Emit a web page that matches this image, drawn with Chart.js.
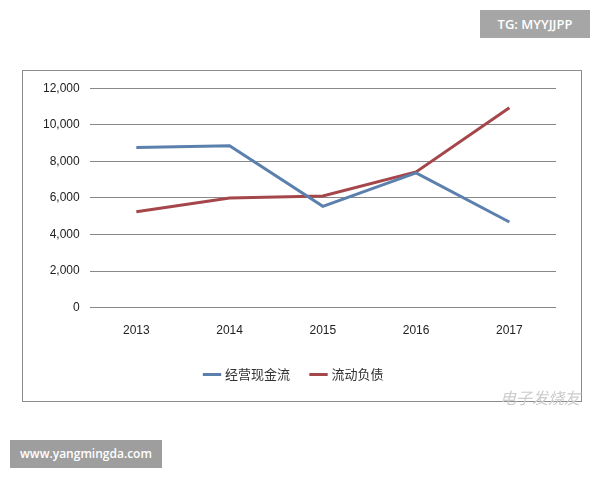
<!DOCTYPE html>
<html><head><meta charset="utf-8">
<script src="https://cdn.jsdelivr.net/npm/chart.js@4/dist/chart.umd.min.js"></script>
<style>
body{margin:0;width:600px;height:480px;background:#fff;position:relative;font-family:"Noto Sans CJK SC",sans-serif;overflow:hidden}
#frame{position:absolute;left:22px;top:70px;width:558px;height:330px;border:1px solid #8c8c8c}
#tg{position:absolute;left:480px;top:10px;width:110px;height:28px;background:#a6a6a6;color:#fff;font:600 13px "Open Sans",sans-serif;line-height:28px;text-align:center}
#www{position:absolute;left:10px;top:440px;width:152px;height:28px;background:#9e9e9e;color:#fff;font:600 12px "Open Sans",sans-serif;line-height:28px;text-align:center}
#logo{position:absolute;left:500px;top:385px;color:#ccc;font:italic 16px "Noto Sans CJK SC";}
</style></head><body>
<div id="tg">TG: MYYJJPP</div>
<div id="frame"><canvas id="c" width="558" height="330"></canvas></div>
<div id="www">www.yangmingda.com</div>
<div id="logo">电子发烧友</div>
<script>
const categories=["2013","2014","2015","2016","2017"];
const cashFlow=[8750,8850,5540,7370,4680];
const currentLiab=[5240,6000,6100,7420,10930];
const seriesNames=["经营现金流","流动负债"];
new Chart(document.getElementById('c'),{type:'line',
data:{labels:categories,datasets:[
{label:seriesNames[0],data:cashFlow,borderColor:'#5b80ad',backgroundColor:'#5b80ad',borderWidth:3,pointRadius:0,tension:0},
{label:seriesNames[1],data:currentLiab,borderColor:'#a5474a',backgroundColor:'#a5474a',borderWidth:3,pointRadius:0,tension:0}]},
options:{responsive:false,animation:false,
layout:{padding:{left:10,right:25,top:2,bottom:10}},
plugins:{legend:{position:'bottom',labels:{usePointStyle:true,pointStyle:'line',boxWidth:30,font:{size:13,family:'Noto Sans CJK SC'},color:'#333',padding:22}},tooltip:{enabled:false}},
scales:{x:{offset:true,grid:{display:false},border:{display:false},ticks:{color:'#222',font:{size:12},padding:8}},
y:{min:0,max:12000,ticks:{stepSize:2000,color:'#222',font:{size:12},padding:10,callback:v=>v.toLocaleString('en-US')},grid:{color:'#888',drawTicks:false},border:{display:false}}}}});
</script></body></html>
